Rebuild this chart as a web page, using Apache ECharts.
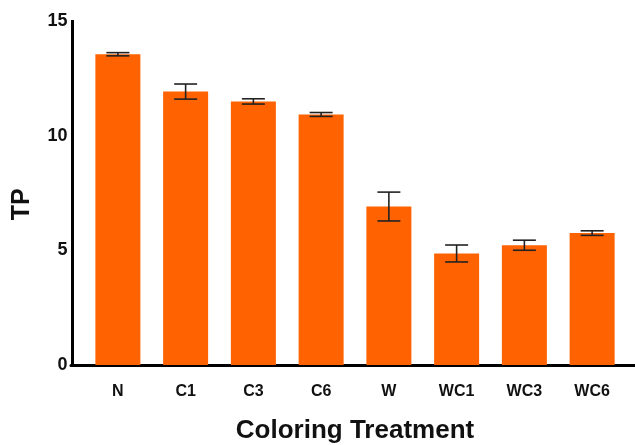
<!DOCTYPE html>
<html>
<head>
<meta charset="utf-8">
<script src="https://cdn.jsdelivr.net/npm/echarts@6/dist/echarts.min.js"></script>
<style>
  html, body { margin: 0; padding: 0; background: #fff; }
  #chart { width: 635px; height: 445px; }
</style>
</head>
<body>
<div id="chart"></div>
<script>
// Total phenolics (TP) by coloring treatment, mean with error
const categories = ['N', 'C1', 'C3', 'C6', 'W', 'WC1', 'WC3', 'WC6'];
const meanTP = [13.57, 11.94, 11.51, 10.94, 6.92, 4.87, 5.23, 5.76];
const errTP = [0.07, 0.33, 0.115, 0.085, 0.63, 0.37, 0.22, 0.1];
const yTicks = [0, 5, 10, 15];

const FONT = '"Liberation Sans", Arial, sans-serif';
const chart = echarts.init(document.getElementById('chart'), null, { renderer: 'canvas' });

const errorData = categories.map((c, i) => [i, meanTP[i] - errTP[i], meanTP[i] + errTP[i]]);

chart.setOption({
  animation: false,
  backgroundColor: '#ffffff',
  grid: [
    { left: 84, right: 9, top: 21.5, bottom: 80, outerBoundsMode: 'none', containLabel: false },
    { left: 71, right: 0, top: 21.5, bottom: 80, outerBoundsMode: 'none', containLabel: false }
  ],
  xAxis: [
    {
      type: 'category',
      gridIndex: 0,
      data: categories,
      axisLine: { show: false },
      axisTick: { show: false },
      axisLabel: { margin: 19, fontFamily: FONT, fontWeight: 'bold', fontSize: 16, color: '#111' },
      name: 'Coloring Treatment',
      nameLocation: 'middle',
      nameGap: 53,
      nameTextStyle: { fontFamily: FONT, fontWeight: 'bold', fontSize: 26, color: '#111' }
    },
    {
      type: 'value',
      gridIndex: 1,
      min: 0, max: 1,
      axisLine: { show: true, lineStyle: { color: '#000', width: 3 } },
      axisTick: { show: false },
      axisLabel: { show: false },
      splitLine: { show: false }
    }
  ],
  yAxis: [
    {
      type: 'value',
      gridIndex: 0,
      min: yTicks[0],
      max: yTicks[yTicks.length - 1],
      interval: 5,
      offset: 11.5,
      axisLine: { show: true, lineStyle: { color: '#000', width: 3, cap: 'square' } },
      axisTick: { show: false },
      splitLine: { show: false },
      axisLabel: { margin: 5, fontFamily: FONT, fontWeight: 'bold', fontSize: 18, color: '#111' },
      name: 'TP',
      nameLocation: 'middle',
      nameGap: 38,
      nameTextStyle: { fontFamily: FONT, fontWeight: 'bold', fontSize: 25, color: '#111', padding: [0, 22, 0, 0] }
    },
    { type: 'value', gridIndex: 1, show: false }
  ],
  series: [
    {
      type: 'bar',
      xAxisIndex: 0,
      yAxisIndex: 0,
      data: meanTP,
      barWidth: 45,
      itemStyle: { color: '#FF6200' },
      z: 2
    },
    {
      type: 'custom',
      xAxisIndex: 0,
      yAxisIndex: 0,
      data: errorData,
      z: 3,
      renderItem: function (params, api) {
        const x = api.value(0);
        const lo = api.coord([x, api.value(1)]);
        const hi = api.coord([x, api.value(2)]);
        const half = 11.5;
        const style = { stroke: '#222', lineWidth: 1.6 };
        return {
          type: 'group',
          children: [
            { type: 'line', shape: { x1: lo[0], y1: lo[1], x2: hi[0], y2: hi[1] }, style: style },
            { type: 'line', shape: { x1: lo[0] - half, y1: lo[1], x2: lo[0] + half, y2: lo[1] }, style: style },
            { type: 'line', shape: { x1: hi[0] - half, y1: hi[1], x2: hi[0] + half, y2: hi[1] }, style: style }
          ]
        };
      }
    }
  ]
});
</script>
</body>
</html>
